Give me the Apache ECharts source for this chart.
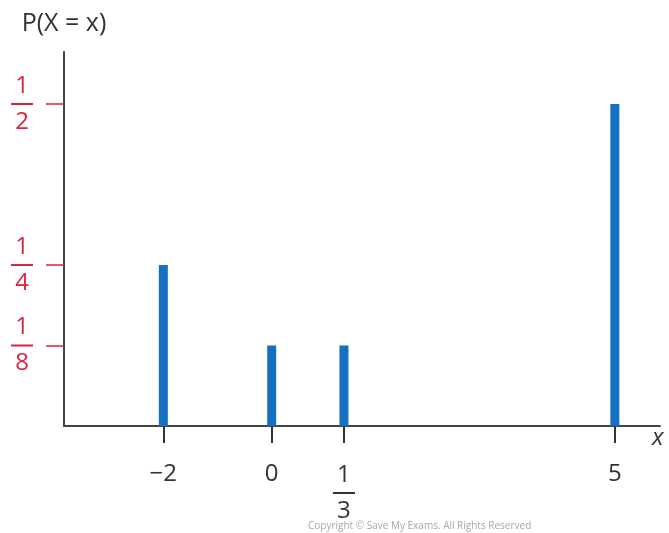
<!DOCTYPE html>
<html>
<head>
<meta charset="utf-8">
<script src="https://cdn.jsdelivr.net/npm/echarts@6/dist/echarts.min.js"></script>
<style>html,body{margin:0;padding:0;background:#fff;}#c{width:669px;height:533px;}</style>
</head>
<body>
<div id="c"></div>
<script>
// ---- data ----
const xValues = ['−2', '0', '1/3', '5'];
const probabilities = [1/4, 1/8, 1/8, 1/2];
const yTickValues = [1/8, 1/4, 1/2];
const yTickLabels = ['1/8', '1/4', '1/2'];
const yAxisTitle = 'P(X = x)';
const xAxisTitle = 'x';
const copyright = 'Copyright © Save My Exams. All Rights Reserved';

// ---- layout (sketch is not to scale: x values sit in slots) ----
const slotCount = 33;
const slotOf = [5, 11, 15, 30];

const cats = new Array(slotCount).fill('');
const barData = new Array(slotCount).fill('-');
xValues.forEach((v, i) => { cats[slotOf[i]] = v; barData[slotOf[i]] = probabilities[i]; });

const RED = '#d7263d';
const FONT = '"Open Sans", Lato, sans-serif';

function frac(s) {
  if (s.indexOf('/') < 0) return s;
  const p = s.split('/');
  return '{n|' + p[0] + '}\n{l| }\n{d|' + p[1] + '}';
}
function fracRich(color) {
  return {
    n: { fontSize: 24, color: color, fontFamily: FONT, lineHeight: 26, align: 'center' },
    l: { width: 22, height: 2, lineHeight: 10, backgroundColor: color, fontSize: 2, align: 'center' },
    d: { fontSize: 24, color: color, fontFamily: FONT, lineHeight: 26, align: 'center' }
  };
}

const chart = echarts.init(document.getElementById('c'));
chart.setOption({
  animation: false,
  backgroundColor: '#fff',
  grid: { left: 64, right: 9, top: 52, bottom: 107, containLabel: false },
  xAxis: {
    type: 'category',
    data: cats,
    boundaryGap: true,
    name: xAxisTitle,
    nameLocation: 'end',
    nameGap: -8,
    nameTextStyle: { fontSize: 24, fontStyle: 'italic', color: '#333', fontFamily: FONT, verticalAlign: 'top', padding: [0, 0, 0, 0] },
    axisLine: { lineStyle: { color: '#444', width: 2 } },
    axisTick: { show: true, length: 17, alignWithLabel: true, interval: (i, v) => v !== '', lineStyle: { color: '#333', width: 2 } },
    axisLabel: {
      interval: (i, v) => v !== '',
      margin: 36,
      color: '#333',
      fontSize: 24,
      fontFamily: FONT,
      verticalAlign: 'top',
      formatter: v => frac(v),
      rich: fracRich('#333')
    },
    splitLine: { show: false }
  },
  yAxis: {
    type: 'value',
    min: 0,
    max: 0.5807,
    name: yAxisTitle,
    nameLocation: 'end',
    nameGap: 16,
    nameTextStyle: { fontSize: 25, color: '#333', fontFamily: FONT, align: 'center', padding: [0, 0, 0, 0] },
    axisLine: { show: true, lineStyle: { color: '#444', width: 2 } },
    axisTick: { show: true, length: 18, customValues: yTickValues, lineStyle: { color: RED, width: 1.5 } },
    axisLabel: {
      customValues: yTickValues,
      margin: 42,
      align: 'center',
      formatter: v => {
        const i = yTickValues.findIndex(t => Math.abs(t - v) < 1e-9);
        return i >= 0 ? frac(yTickLabels[i]) : '';
      },
      rich: fracRich(RED)
    },
    splitLine: { show: false }
  },
  series: [{
    type: 'bar',
    data: barData,
    barWidth: 9,
    itemStyle: { color: '#1570c4' }
  }],
  graphic: [{
    type: 'text',
    left: 308,
    top: 521,
    style: { text: copyright, fontSize: 10, fill: '#a8a8a8', fontFamily: FONT }
  }]
});
</script>
</body>
</html>
